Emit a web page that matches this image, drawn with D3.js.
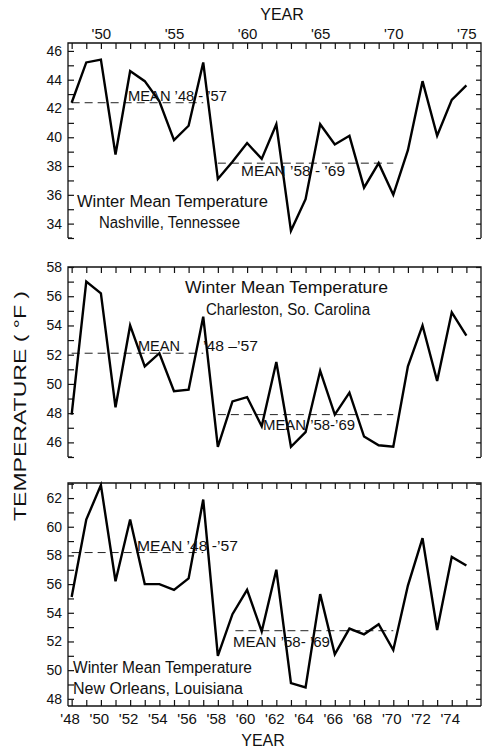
<!DOCTYPE html>
<html>
<head>
<meta charset="utf-8">
<script src="https://cdn.jsdelivr.net/npm/d3@7"></script>
<style>
  body { margin: 0; background: #fff; }
  text { font-family: "Liberation Sans", Arial, sans-serif; fill: #111; }
</style>
</head>
<body>
<div id="chart"></div>
<script>
// winter mean temperatures (deg F)
var years = [1948, 1949, 1950, 1951, 1952, 1953, 1954, 1955, 1956, 1957, 1958, 1959, 1960, 1961,
             1962, 1963, 1964, 1965, 1966, 1967, 1968, 1969, 1970, 1971, 1972, 1973, 1974, 1975];
var nashville = [42.4, 45.2, 45.4, 38.8, 44.6, 43.9, 42.5, 39.8, 40.8, 45.2, 37.1, 38.3, 39.6, 38.5,
                 40.9, 33.5, 35.7, 40.9, 39.5, 40.1, 36.5, 38.2, 36.0, 39.1, 43.9, 40.1, 42.6, 43.6];
var charleston = [47.9, 57.0, 56.2, 48.4, 54.0, 51.2, 52.1, 49.5, 49.6, 54.6, 45.7, 48.8, 49.1, 47.1,
                  51.5, 45.7, 46.7, 50.9, 47.9, 49.4, 46.4, 45.8, 45.7, 51.2, 54.0, 50.2, 54.9, 53.3];
var newOrleans = [55.1, 60.5, 62.9, 56.2, 60.5, 56.0, 56.0, 55.6, 56.4, 61.9, 51.0, 53.9, 55.6, 52.7,
                  57.0, 49.1, 48.8, 55.3, 51.1, 52.9, 52.5, 53.2, 51.4, 55.9, 59.2, 52.8, 57.9, 57.3];

// period means: [first year, last year, value]
var nashvilleMeans = [[1948, 1957, 42.4], [1958, 1970, 38.2]];
var charlestonMeans = [[1948, 1957, 52.1], [1958, 1970, 47.9]];
var newOrleansMeans = [[1948, 1957, 58.2], [1959.2, 1970, 52.75]];

// tick labels
var nashvilleTicks = [34, 36, 38, 40, 42, 44, 46];
var charlestonTicks = [46, 48, 50, 52, 54, 56, 58];
var newOrleansTicks = [48, 50, 52, 54, 56, 58, 60, 62];
var topYearLabels = [1950, 1955, 1960, 1965, 1970, 1975];
var bottomYearLabels = [1948, 1950, 1952, 1954, 1956, 1958, 1960, 1962, 1964, 1966, 1968, 1970, 1972, 1974];

var width = 483, height = 749;
var left = 68, right = 481;

var svg = d3.select('#chart').append('svg')
    .attr('width', width)
    .attr('height', height);

var x = d3.scaleLinear().domain([1947.75, 1976]).range([left, right]);
var yearTicks = d3.range(1948, 1976);
var fmtYear = function (d) { return "'" + String(d).slice(2); };

var panels = [
    {values: nashville, means: nashvilleMeans, ticks: nashvilleTicks, domain: [33, 46.55], top: 43, bottom: 238,
     title: ['Winter Mean Temperature', 'Nashville, Tennessee'],
     titlePos: [[77, 207, 191], [99, 228, 141]],
     meanLabels: [['MEAN \u201948 - \u201957', 128, 101, 99], ['MEAN \u201958 - \u201969', 241, 176, 104]]},
    {values: charleston, means: charlestonMeans, ticks: charlestonTicks, domain: [45, 58], top: 267, bottom: 457,
     title: ['Winter Mean Temperature', 'Charleston, So. Carolina'],
     titlePos: [[185, 293, 203], [206, 315, 164]],
     meanLabels: [['MEAN', 138, 351, 42], ['\u201948 \u2013\u201957', 203, 351, 55], ['MEAN \u201958-\u201969', 263, 430, 92]]},
    {values: newOrleans, means: newOrleansMeans, ticks: newOrleansTicks, domain: [47.5, 63.05], top: 483, bottom: 706,
     title: ['Winter Mean Temperature', 'New Orleans, Louisiana'],
     titlePos: [[73, 673, 179], [73, 694, 170]],
     meanLabels: [['MEAN \u201948 -\u201957', 137, 551, 101], ['MEAN \u201958- \u201969', 233, 647, 97]]}
];

panels.forEach(function (p, i) {
    var y = d3.scaleLinear().domain(p.domain).range([p.bottom, p.top]);
    var g = svg.append('g');
    var minor = d3.range(Math.ceil(p.domain[0]), Math.floor(p.domain[1]) + 1);

    // left axis, ticks pointing in
    g.append('g')
        .attr('transform', 'translate(' + left + ',0)')
        .call(d3.axisLeft(y).tickValues(minor).tickSize(-6).tickPadding(6)
            .tickFormat(function (d) { return p.ticks.indexOf(d) >= 0 ? d : ''; }))
        .call(function (a) { a.select('.domain').remove(); })
        .selectAll('text').attr('font-size', 14).attr('fill', '#111');

    // right axis, ticks only
    g.append('g')
        .attr('transform', 'translate(' + right + ',0)')
        .call(d3.axisRight(y).tickValues(minor).tickSize(-5).tickFormat(''))
        .call(function (a) { a.select('.domain').remove(); });

    // top ticks every year
    var topAxis = d3.axisTop(x).tickValues(yearTicks).tickSize(-6).tickPadding(4)
        .tickFormat(function (d) { return i === 0 && topYearLabels.indexOf(d) >= 0 ? fmtYear(d) : ''; });
    g.append('g')
        .attr('transform', 'translate(0,' + p.top + ')')
        .call(topAxis)
        .call(function (a) { a.select('.domain').remove(); })
        .selectAll('text').attr('font-size', 15).attr('fill', '#111');

    if (i === panels.length - 1) {
        g.append('g')
            .attr('transform', 'translate(0,' + p.bottom + ')')
            .call(d3.axisBottom(x).tickValues(yearTicks).tickSize(-6).tickPadding(7)
                .tickFormat(function (d) { return bottomYearLabels.indexOf(d) >= 0 ? fmtYear(d) : ''; }))
            .call(function (a) { a.select('.domain').remove(); })
            .selectAll('text').attr('font-size', 15).attr('fill', '#111').attr('dx', -2);
        g.append('line')
            .attr('x1', left).attr('x2', right).attr('y1', p.bottom).attr('y2', p.bottom)
            .attr('stroke', '#111').attr('stroke-width', 1.3);
    } else {
        g.append('line')
            .attr('x1', left).attr('x2', left + 4).attr('y1', p.bottom).attr('y2', p.bottom)
            .attr('stroke', '#111').attr('stroke-width', 1.2);
    }

    // frame
    g.append('path')
        .attr('d', 'M' + left + ',' + p.bottom + 'V' + p.top + 'H' + right + 'V' + p.bottom)
        .attr('fill', 'none').attr('stroke', '#111').attr('stroke-width', 1.3);

    g.selectAll('.tick line').attr('stroke', '#111').attr('stroke-width', 1.2);

    // period means
    g.selectAll('.mean').data(p.means).enter().append('line')
        .attr('x1', function (d) { return x(d[0]); })
        .attr('x2', function (d) { return x(d[1]); })
        .attr('y1', function (d) { return y(d[2]); })
        .attr('y2', function (d) { return y(d[2]); })
        .attr('stroke', '#222').attr('stroke-width', 1)
        .attr('stroke-dasharray', '8,5');

    // series
    var line = d3.line()
        .x(function (d, k) { return x(years[k]); })
        .y(function (d) { return y(d); });
    g.append('path')
        .datum(p.values)
        .attr('d', line)
        .attr('fill', 'none')
        .attr('stroke', '#000')
        .attr('stroke-width', 2.4)
        .attr('stroke-linejoin', 'miter');

    p.meanLabels.forEach(function (m) {
        g.append('text').text(m[0])
            .attr('x', m[1]).attr('y', m[2])
            .attr('font-size', 14)
            .attr('textLength', m[3]).attr('lengthAdjust', 'spacingAndGlyphs');
    });

    p.title.forEach(function (t, k) {
        g.append('text').text(t)
            .attr('x', p.titlePos[k][0]).attr('y', p.titlePos[k][1])
            .attr('font-size', 16)
            .attr('textLength', p.titlePos[k][2]).attr('lengthAdjust', 'spacingAndGlyphs');
    });
});

// axis titles
svg.append('text').text('YEAR')
    .attr('x', 282).attr('y', 20)
    .attr('text-anchor', 'middle').attr('font-size', 16);
svg.append('text').text('YEAR')
    .attr('x', 263).attr('y', 746)
    .attr('text-anchor', 'middle').attr('font-size', 16);
svg.append('text').text('TEMPERATURE ( \u00b0F )')
    .attr('transform', 'translate(26,406) rotate(-90)')
    .attr('text-anchor', 'middle').attr('font-size', 17)
    .attr('textLength', 230).attr('lengthAdjust', 'spacingAndGlyphs');
</script>
</body>
</html>
